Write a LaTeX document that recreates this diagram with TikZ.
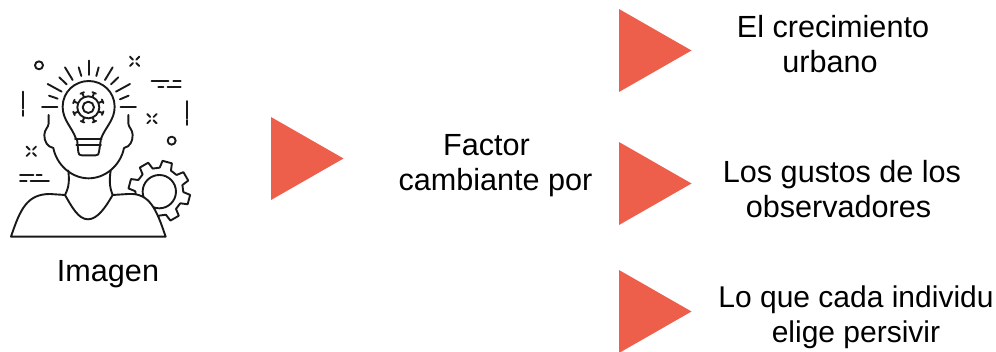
\documentclass[tikz,border=0pt]{standalone}
\usepackage{fontspec}
\setmainfont{Liberation Sans}
\definecolor{rojizo}{HTML}{ED5E4B}
\tikzset{
 texto/.style={inner sep=0pt,align=center,font=\fontsize{30.6}{35}\selectfont},
 flecha/.style={fill=rojizo},
 trazo/.style={line width=1.9pt,line cap=round,line join=round,black!90}
}
\begin{document}
\begin{tikzpicture}[x=1pt,y=-1pt]
\useasboundingbox (0,0) rectangle (996,351);
\clip (0,0) rectangle (996,351);
% triangulos
\foreach \tx/\ty in {271/117,619/9,619/142,619/270}
 \fill[flecha] (\tx,\ty) -- ++(72.5,41.5) -- ++(-72.5,41.5) -- cycle;
% textos
\node[texto] (imagen) at (108,274) {Imagen};
\node[texto] (factor) at (495.5,166) {Factor\hspace*{18pt}\\cambiante por};
\node[texto] (urbano) at (833,44) {El crecimiento\\urbano\hspace*{6pt}};
\node[texto] (gustos) at (842,189) {Los gustos de los\\observadores\hspace*{7pt}};
\node[texto,font=\fontsize{30}{35}\selectfont] (elige) at (856,317.5) {Lo que cada individu\\elige persivir};
% icono
\begin{scope}[shift={(0,40)},x=.3333pt,y=-.3333pt,trazo]
\draw (117,76) circle[radius=12];
\draw (515,302) circle[radius=12];
\foreach \cx/\cy in {404/64,456/236,94/334}
 \foreach \sx/\sy in {1/1,1/-1,-1/1,-1/-1}
  \draw (\cx+5*\sx,\cy+5*\sy) -- (\cx+14*\sx,\cy+14*\sy);
% rayas
\draw (455,123) -- (505,123) (520,123) -- (542,123);
\draw (475,140) -- (490,140) (503,140) -- (542,140);
\draw (60,405) -- (100,405) (110,405) -- (125,405);
\draw (60,422) -- (80,422) (92,422) -- (147,422);
\draw (70,155) -- (70,205) (70,212) -- (70,228);
\draw (562,183) -- (562,235) (562,240) -- (562,255);
% rayos
\foreach \xa/\ya/\xb/\yb in {266/62/266/105,236/82/244/108,296/82/289/108,195/82/218/120,338/82/315/120,178/112/200/133,355/112/333/133,143/132/185/155,390/132/348/155,147/167/173/176,386/167/360/178,126/202/172/202,362/202/408/202}
 \draw (\xa,\ya) -- (\xb,\yb);
% foco
\draw (228,296) .. controls (215,260) and (188,240) .. (188,200) .. controls (188,155) and (225,123) .. (266,123) .. controls (307,123) and (344,155) .. (344,200) .. controls (344,240) and (317,260) .. (303,296);
\draw (225,296) -- (305,296) (229,315) -- (303,315);
\draw (231,296) -- (235,336) .. controls (236,343) and (238,346) .. (245,346) -- (287,346) .. controls (294,346) and (296,343) .. (297,336) -- (303,296);
\begin{scope}[shift={(265,202)}]
\draw (0,0) circle[radius=17] (0,0) circle[radius=33];
\foreach \a in {22,67,...,337} {
 \draw (\a:33) -- (\a:46);
 \draw (\a-7:47) -- (\a+7:47);
}
\end{scope}
% engrane
\begin{scope}[shift={(478,455)}]
\draw (0,0) circle[radius=50];
\draw \foreach \a in {15,60,...,330} { (\a-14:72) -- (\a-9:93) -- (\a+9:93) -- (\a+14:72) -- (\a+31:72) };
\end{scope}
% cabeza
\draw (146,225) -- (146,250) .. controls (146,262) and (133,268) .. (133,285) .. controls (133,305) and (142,320) .. (160,324) .. controls (170,375) and (215,415) .. (266,415) .. controls (317,415) and (362,375) .. (372,324) .. controls (390,320) and (398,305) .. (398,285) .. controls (398,268) and (385,262) .. (385,250) -- (385,225);
\draw (205,392) .. controls (208,420) and (208,440) .. (195,465);
\draw (332,392) .. controls (328,420) and (328,440) .. (338,465);
% hombros
\draw[fill=white] (33,590) .. controls (60,510) and (80,462) .. (150,462) -- (195,465) .. controls (215,500) and (235,538) .. (264,538) .. controls (293,538) and (318,500) .. (338,465) -- (385,462) .. controls (450,458) and (470,510) .. (497,590) -- cycle;
\end{scope}
\end{tikzpicture}
\end{document}
